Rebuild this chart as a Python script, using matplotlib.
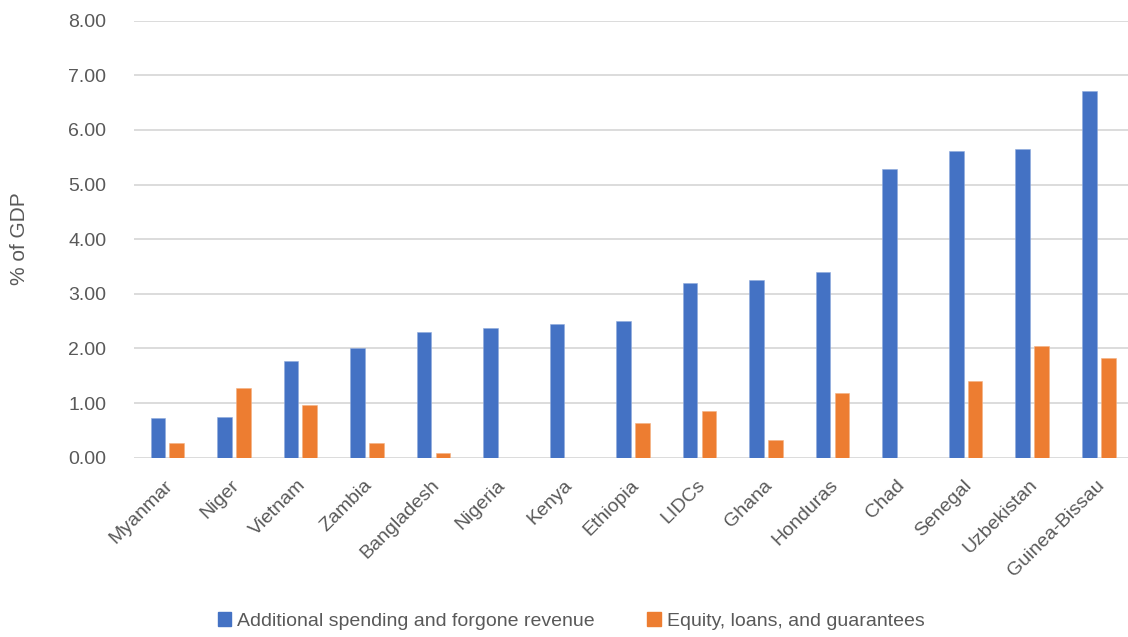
import matplotlib
matplotlib.use("Agg")
import matplotlib.pyplot as plt
import matplotlib.transforms as mtransforms
from matplotlib.patches import Patch
import numpy as np

plt.rcParams['font.family'] = ['Liberation Sans', 'DejaVu Sans']

categories = ["Myanmar", "Niger", "Vietnam", "Zambia", "Bangladesh", "Nigeria", "Kenya",
              "Ethiopia", "LIDCs", "Ghana", "Honduras", "Chad", "Senegal", "Uzbekistan",
              "Guinea-Bissau"]
spending = [0.72, 0.75, 1.77, 2.00, 2.30, 2.38, 2.45, 2.50, 3.20, 3.26, 3.40, 5.28, 5.61, 5.66, 6.71]
equity = [0.26, 1.27, 0.96, 0.26, 0.08, 0.0, 0.0, 0.63, 0.85, 0.32, 1.18, 0.0, 1.41, 2.05, 1.83]
yticks = [0, 1, 2, 3, 4, 5, 6, 7, 8]
series_names = ["Additional spending and forgone revenue", "Equity, loans, and guarantees"]

BLUE = "#4472C4"
ORANGE = "#ED7D31"
TEXT = "#595959"
GRID = "#D9D9D9"

W, H = 1128, 637
fig = plt.figure(figsize=(W / 100, H / 100), dpi=100)
left = 134 / W
bottom = (H - 457.7) / H
top = (H - 20.7) / H
ax = fig.add_axes([left, bottom, 1.0 - left, top - bottom])

x = np.arange(len(categories))
bw = 0.22
off = 0.142
ax.bar(x - off, spending, width=bw, color=BLUE, edgecolor="#8FAADC", linewidth=0.4, zorder=3)
ax.bar(x + off, equity, width=bw, color=ORANGE, edgecolor="#F4B183", linewidth=0.4, zorder=3)

ax.set_xlim(-0.5, len(categories) - 0.5 - 4 / 66.5)
ax.set_ylim(0, 8)
ax.set_yticks(yticks)
ax.set_yticklabels([f"{v:.2f}" for v in yticks], fontsize=14, color=TEXT)
ax.yaxis.grid(True, color=GRID, linewidth=1.3, zorder=0)
ax.set_axisbelow(True)
for s in ax.spines.values():
    s.set_visible(False)
ax.tick_params(axis='y', length=0, pad=20)
ax.tick_params(axis='x', length=0, pad=0)

ax.set_xticks(x)
ax.set_xticklabels(categories, fontsize=14, color=TEXT, rotation=45, ha='right',
                   va='center', rotation_mode='anchor')
offset = mtransforms.ScaledTranslation(3 / 100, -25 / 100, fig.dpi_scale_trans)
for lab in ax.get_xticklabels():
    lab.set_transform(lab.get_transform() + offset)

fig.text(20 / W, (H - 239) / H, "% of GDP", rotation=90, ha='center', va='center',
         fontsize=15, color=TEXT)

handles = [Patch(facecolor=BLUE, edgecolor=BLUE), Patch(facecolor=ORANGE, edgecolor=ORANGE)]
leg = fig.legend(handles, series_names, loc='center', bbox_to_anchor=(571 / W, (H - 621) / H),
                 ncol=2, frameon=False, fontsize=14, handlelength=0.7, handleheight=0.7,
                 handletextpad=0.3, columnspacing=2.7, labelcolor=TEXT)

fig.savefig("out.png", dpi=100, facecolor="white")
